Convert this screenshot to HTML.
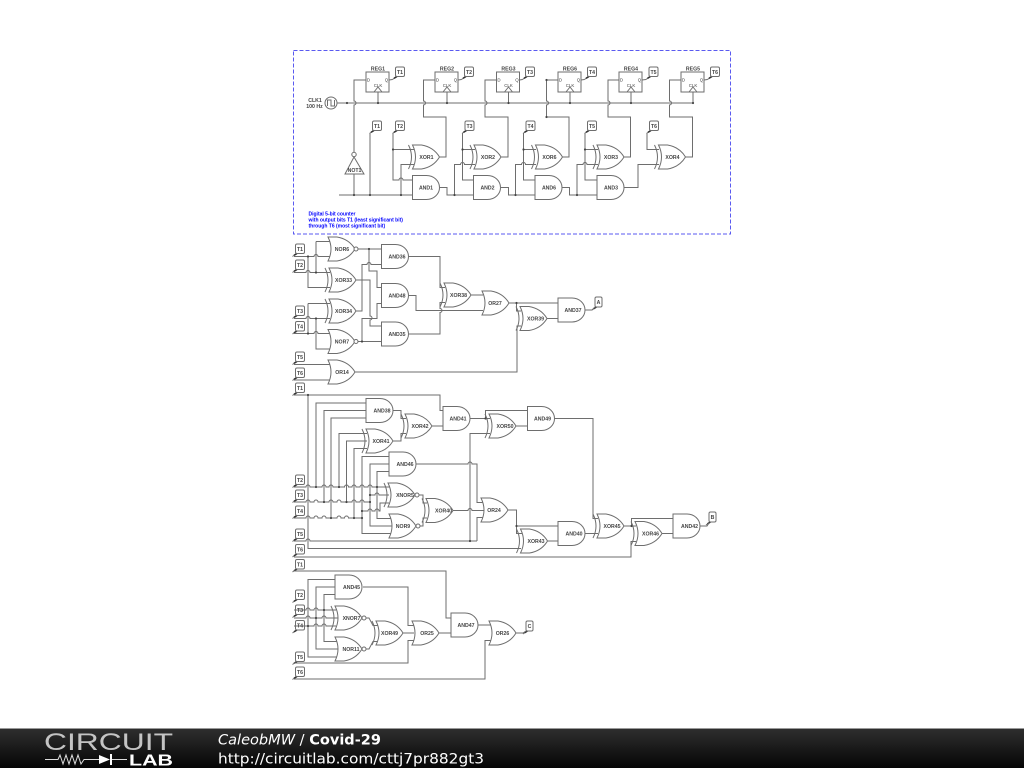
<!DOCTYPE html>
<html><head><meta charset="utf-8"><title>Covid-29</title>
<style>
html,body{margin:0;padding:0;background:#fff}
svg{display:block}
text{font-family:"Liberation Sans",sans-serif}
.dg{filter:blur(.35px)}
.w{fill:none;stroke:#6e6e6e;stroke-width:1}
.g{fill:#fff;stroke:#6e6e6e;stroke-width:1}
.l{font-size:5.2px;font-weight:bold;fill:#444;text-anchor:middle}
.s{font-size:4.4px;fill:#444;text-anchor:middle}
.t{font-size:5.2px;font-weight:bold;fill:#444;text-anchor:middle}
.b{font-size:5px;font-weight:bold;fill:#00f}
.f{font-family:"DejaVu Sans",sans-serif;font-size:14px;fill:#fff}
.d{fill:#444}
</style></head><body>
<svg xmlns="http://www.w3.org/2000/svg" width="1024" height="768" viewBox="0 0 1024 768">
<defs>
<linearGradient id="fg" x1="0" y1="0" x2="0" y2="1"><stop offset="0" stop-color="#2e2e2e"/><stop offset="1" stop-color="#050505"/></linearGradient>
<g id="and"><path class="g" d="M0,-12H14A13,12 0 0 1 14,12H0Z"/></g>
<g id="or"><path class="g" d="M0,-12H9Q21,-10 27,0Q21,10 9,12H0Q6,0 0,-12Z"/></g>
<g id="xor"><path class="g" d="M0,-12H9Q21,-10 27,0Q21,10 9,12H0Q6,0 0,-12Z"/><path class="w" d="M-4,-12Q2,0 -4,12"/></g>
<g id="tg"><path class="w" d="M1,9.5L-3,12.5"/><path d="M1.5,9.5L-1.5,11.3" stroke="#333" stroke-width="1.5" fill="none"/><rect class="g" x="0" y="0" width="9" height="9.5" rx="1.5"/></g>
<g id="ts"><path class="w" d="M1,10L-3,13"/><path d="M1.5,10L-1.5,11.8" stroke="#333" stroke-width="1.5" fill="none"/><rect class="g" x="0" y="0" width="7" height="10" rx="1.5"/></g>
<g id="reg"><rect class="g" x="0" y="0" width="23" height="20"/><path class="w" d="M8,20L12,15L16,20"/></g>
</defs>
<rect width="1024" height="768" fill="#fff"/>
<g class="dg">
<!-- dashed frame -->
<rect x="293.5" y="50.5" width="437" height="183.5" fill="none" stroke="#5a5af0" stroke-width="1" stroke-dasharray="4,2"/>

<!-- tags -->
<use href="#tg" x="395.5" y="67"/><use href="#tg" x="464.5" y="67"/><use href="#tg" x="525.5" y="67"/><use href="#tg" x="587.5" y="67"/><use href="#tg" x="649" y="67"/><use href="#tg" x="710.5" y="67"/>
<use href="#tg" x="372.5" y="121"/><use href="#tg" x="395.5" y="121"/><use href="#tg" x="465" y="121"/><use href="#tg" x="526" y="121"/><use href="#tg" x="587.5" y="121"/><use href="#tg" x="649.5" y="121"/>
<use href="#tg" x="295.5" y="244"/><use href="#tg" x="295.5" y="260"/><use href="#tg" x="295.5" y="306"/><use href="#tg" x="295.5" y="321.5"/><use href="#tg" x="295.5" y="352"/><use href="#tg" x="295.5" y="368"/><use href="#tg" x="295.5" y="383"/>
<use href="#tg" x="295.5" y="475"/><use href="#tg" x="295.5" y="490"/><use href="#tg" x="295.5" y="506"/><use href="#tg" x="295.5" y="529"/><use href="#tg" x="295.5" y="544.5"/><use href="#tg" x="295.5" y="559.5"/>
<use href="#tg" x="295.5" y="590"/><use href="#tg" x="295.5" y="605"/><use href="#tg" x="295.5" y="620.5"/><use href="#tg" x="295.5" y="652"/><use href="#tg" x="295.5" y="667"/>
<use href="#ts" x="595" y="297"/><use href="#ts" x="709" y="512"/><use href="#ts" x="526" y="621"/>

<!-- section 1 wires -->
<path class="w" d="M337,103H693"/>
<path class="w" d="M378,103V92M447,103V92M508.5,103V92M570,103V92M631,103V92M693,103V92"/>
<path class="w" d="M366,80H354V101a2,2 0 0 1 0,4V152M354,174V195"/>
<path class="w" d="M435,80H423.5V101a2,2 0 0 1 0,4V117H446V157H439"/>
<path class="w" d="M496.5,80H485V101a2,2 0 0 1 0,4V117H508V157H500"/>
<path class="w" d="M558,80H546.5V101a2,2 0 0 1 0,4V117H569V157H562"/>
<path class="w" d="M619,80H608V101a2,2 0 0 1 0,4V117H630.5V157H623"/>
<path class="w" d="M681,80H669.5V101a2,2 0 0 1 0,4V117H692.5V157H685"/>
<path class="w" d="M389,80L392.5,79.5M458,80L461.5,79.5M519.5,80L522.5,79.5M581,80L584.5,79.5M642,80L646,79.5M704,80L707.5,79.5"/>
<path class="w" d="M339,195H413M370,133V195M401,195V164.5H414"/>
<path class="w" d="M393,133V180H399a2,2 0 0 1 4,0H413M393,149.5H414"/>
<path class="w" d="M440,187.5H447V195H474M454.5,195V164.5H460.5a2,2 0 0 1 4,0H475"/>
<path class="w" d="M462.5,133V180H474M462.5,149.5H475"/>
<path class="w" d="M501,187.5H508.5V195H535M515.5,195V164.5H521.5a2,2 0 0 1 4,0H536"/>
<path class="w" d="M523.5,133V180H535M523.5,149.5H536"/>
<path class="w" d="M562,187.5H569.5V195H597M577,195V164.5H583a2,2 0 0 1 4,0H598"/>
<path class="w" d="M585,133V180H597M585,149.5H598"/>
<path class="w" d="M647,133V149.5H659M623.5,187.5H638V164.5H659"/>

<!-- section 2 wires -->
<path class="w" d="M294,256.5H314a2,2 0 0 1 4,0H330M294,272.5H306a2,2 0 0 1 4,0H330"/>
<path class="w" d="M308,256.5V287.5H330M316,241.5H330M316,241.5V272.5"/>
<path class="w" d="M294,318.5H306a2,2 0 0 1 4,0H330M294,333.5H314a2,2 0 0 1 4,0H330"/>
<path class="w" d="M308,303.5H330M308,303.5V333.5M316,318.5V349H330"/>
<path class="w" d="M294,364.5H330M294,380H330M355,372H517V326H521"/>
<path class="w" d="M358,249H382M369,249V271H377V287.5H382"/>
<path class="w" d="M355,280H370V316a2,2 0 0 1 0,4V326H382"/>
<path class="w" d="M355,311H362V264.5H367a2,2 0 0 1 4,0H382"/>
<path class="w" d="M358,341.5H382M362,341.5V318.5H377V303.5H382"/>
<path class="w" d="M409,256.5H440V287.5H445"/>
<path class="w" d="M409,295.5H416V310.5H483"/>
<path class="w" d="M409,334H440V312.5a2,2 0 0 0 0,-4V302.5H445"/>
<path class="w" d="M471,295H483M509,303H558M516.5,303V311H521M547,318.5H558M585,310H592L595,307"/>

<!-- section 3 wires -->
<path class="w" d="M294,395H440V410.5H444M308,395V548.5H521"/>
<path class="w" d="M294,487H306a2,2 0 0 1 4,0H322a2,2 0 0 1 4,0H329a2,2 0 0 1 4,0H344.5a2,2 0 0 1 4,0H352a2,2 0 0 1 4,0H360a2,2 0 0 1 4,0H368a2,2 0 0 1 4,0H390"/>
<path class="w" d="M294,502H306a2,2 0 0 1 4,0H314a2,2 0 0 1 4,0H329a2,2 0 0 1 4,0H337a2,2 0 0 1 4,0H352a2,2 0 0 1 4,0H360a2,2 0 0 1 4,0H370"/>
<path class="w" d="M294,518H306a2,2 0 0 1 4,0H314a2,2 0 0 1 4,0H322a2,2 0 0 1 4,0H337a2,2 0 0 1 4,0H344.5a2,2 0 0 1 4,0H362"/>
<path class="w" d="M294,541H306a2,2 0 0 1 4,0H477M294,557H631V541.5H636"/>
<path class="w" d="M367,403H316V487M367,410.5H324V502M367,418H331V518"/>
<path class="w" d="M367,433.5H339V487M367,441H346.5V502M367,448.5H354V518"/>
<path class="w" d="M393,410.5H401V418.5H406M393,441H401V433.5H406M432,426H444"/>
<path class="w" d="M470,418.5H490M485.5,418.5V410.5H528"/>
<path class="w" d="M470,541V433.5H490M516,426H528M554,418.5H593V518.5H598"/>
<path class="w" d="M390,456.5H362V533.5H392M390,464H370V526H392M390,471.5H377V518.5H392"/>
<path class="w" d="M370,495H375a2,2 0 0 1 4,0H389M362,511H368a2,2 0 0 1 4,0H375a2,2 0 0 1 4,0H380V503H389"/>
<path class="w" d="M419,495H423V503H427M420,526H423V518H427"/>
<path class="w" d="M453,510.5H468a2,2 0 0 1 4,0H485"/>
<path class="w" d="M415,464H468a2,2 0 0 1 4,0H477V502.5H483M483,517.5H477V541"/>
<path class="w" d="M508,510H516.5V526H559M516.5,526V533.5H522M547,541H559M585,533.5H598M624,526H636M631.5,526V518.5H674M662,533.5H674M700,526H707L709,523"/>

<!-- section 4 wires -->
<path class="w" d="M294,571H446V618H452"/>
<path class="w" d="M294,610H306a2,2 0 0 1 4,0H314a2,2 0 0 1 4,0H336"/>
<path class="w" d="M294,618H306a2,2 0 0 1 4,0H322a2,2 0 0 1 4,0H338"/>
<path class="w" d="M294,626H314a2,2 0 0 1 4,0H322a2,2 0 0 1 4,0H336"/>
<path class="w" d="M336,579.5H308V657H337M336,587H316V649H339M336,594.5H324V641.5H337"/>
<path class="w" d="M363,587H408V625.5H414M366,618H369L373,625.5H378M366,649H369L373,641.5H378M403,633H414M294,663H408V640.5H414M439,633H452M478,625H491M294,679H485V640.5H491M516,633H523L526,631"/>

<!-- junction dots -->
<g class="d">
<circle cx="347" cy="103" r="1.1"/><circle cx="378" cy="103" r="1.1"/><circle cx="447" cy="103" r="1.1"/><circle cx="508.5" cy="103" r="1.1"/><circle cx="570" cy="103" r="1.1"/><circle cx="631" cy="103" r="1.1"/><circle cx="693" cy="103" r="1.1"/>
<circle cx="354" cy="195" r="1.1"/><circle cx="370" cy="195" r="1.1"/><circle cx="401" cy="195" r="1.1"/><circle cx="393" cy="149.5" r="1.1"/><circle cx="454.5" cy="195" r="1.1"/><circle cx="462.5" cy="149.5" r="1.1"/><circle cx="515.5" cy="195" r="1.1"/><circle cx="523.5" cy="149.5" r="1.1"/><circle cx="577" cy="195" r="1.1"/><circle cx="585" cy="149.5" r="1.1"/>
<circle cx="546.5" cy="80" r="1.1"/><circle cx="546.5" cy="117" r="1.1"/>
<circle cx="308" cy="256.5" r="1.1"/><circle cx="316" cy="272.5" r="1.1"/><circle cx="316" cy="318.5" r="1.1"/><circle cx="308" cy="333.5" r="1.1"/><circle cx="369" cy="249" r="1.1"/><circle cx="362" cy="341.5" r="1.1"/><circle cx="516.5" cy="303" r="1.1"/>
<circle cx="308" cy="395" r="1.1"/><circle cx="316" cy="487" r="1.1"/><circle cx="339" cy="487" r="1.1"/><circle cx="377" cy="487" r="1.1"/><circle cx="324" cy="502" r="1.1"/><circle cx="346.5" cy="502" r="1.1"/><circle cx="370" cy="502" r="1.1"/><circle cx="331" cy="518" r="1.1"/><circle cx="354" cy="518" r="1.1"/><circle cx="362" cy="518" r="1.1"/><circle cx="370" cy="495" r="1.1"/><circle cx="362" cy="511" r="1.1"/><circle cx="470" cy="541" r="1.1"/><circle cx="485.5" cy="418.5" r="1.1"/><circle cx="516.5" cy="526" r="1.1"/><circle cx="631.5" cy="526" r="1.1"/>
<circle cx="324" cy="610" r="1.1"/><circle cx="316" cy="618" r="1.1"/><circle cx="308" cy="626" r="1.1"/>
</g>

<!-- registers -->
<use href="#reg" x="366" y="72"/><use href="#reg" x="435" y="72"/><use href="#reg" x="496.5" y="72"/><use href="#reg" x="558" y="72"/><use href="#reg" x="619" y="72"/><use href="#reg" x="681" y="72"/>
<g class="l">
<text x="378" y="70.5">REG1</text><text x="447" y="70.5">REG2</text><text x="508.5" y="70.5">REG3</text><text x="570" y="70.5">REG6</text><text x="631" y="70.5">REG4</text><text x="693" y="70.5">REG5</text>
</g>
<g class="s">
<text x="378" y="87">CLK</text><text x="447" y="87">CLK</text><text x="508.5" y="87">CLK</text><text x="570" y="87">CLK</text><text x="631" y="87">CLK</text><text x="693" y="87">CLK</text>
<text x="368.5" y="81.5">D</text><text x="437.5" y="81.5">D</text><text x="499" y="81.5">D</text><text x="560.5" y="81.5">D</text><text x="621.5" y="81.5">D</text><text x="683.5" y="81.5">D</text>
<text x="386.5" y="81.5">Q</text><text x="455.5" y="81.5">Q</text><text x="517" y="81.5">Q</text><text x="578.5" y="81.5">Q</text><text x="639.5" y="81.5">Q</text><text x="701.5" y="81.5">Q</text>
</g>

<!-- clock source and inverter -->
<circle class="g" cx="331" cy="103" r="6"/>
<path class="w" d="M327.5,106V100H331V106H334.5V100"/>
<text class="l" x="315" y="102">CLK1</text><text class="l" x="314.5" y="108">100 Hz</text>
<circle class="g" cx="354" cy="154.5" r="2.2"/>
<path class="g" d="M354,157L364,174H345Z"/>
<text class="l" x="354.5" y="172">NOT1</text>

<!-- gates section 1 -->
<use href="#xor" x="412.5" y="157"/><use href="#and" x="412.5" y="187.5"/>
<use href="#xor" x="474" y="157"/><use href="#and" x="473.5" y="187.5"/>
<use href="#xor" x="535.5" y="157"/><use href="#and" x="535" y="187.5"/>
<use href="#xor" x="597" y="157"/><use href="#and" x="597" y="187.5"/>
<use href="#xor" x="658.5" y="157"/>

<!-- gates section 2 -->
<use href="#or" x="328" y="249"/><circle class="g" cx="356" cy="249" r="2"/>
<use href="#xor" x="329" y="280"/><use href="#xor" x="329" y="311"/>
<use href="#or" x="328" y="341.5"/><circle class="g" cx="356" cy="341.5" r="2"/>
<use href="#or" x="328" y="372"/>
<use href="#and" x="381.5" y="256.5"/><use href="#and" x="381.5" y="295.5"/><use href="#and" x="381.5" y="334"/>
<use href="#xor" x="444" y="295"/><use href="#or" x="482" y="303"/><use href="#xor" x="520" y="318.5"/><use href="#and" x="558" y="310"/>

<!-- gates section 3 -->
<use href="#and" x="366" y="410.5"/><use href="#xor" x="366" y="441"/><use href="#xor" x="405" y="426"/><use href="#and" x="443" y="418.5"/><use href="#xor" x="489" y="426"/><use href="#and" x="527.5" y="418.5"/>
<use href="#and" x="389" y="464"/><use href="#xor" x="388" y="495"/><circle class="g" cx="417" cy="495" r="2"/><use href="#or" x="389" y="526"/><circle class="g" cx="418" cy="526" r="2"/>
<use href="#xor" x="426" y="510.5"/><use href="#or" x="481" y="510"/><use href="#xor" x="520.5" y="541"/><use href="#and" x="558" y="533.5"/><use href="#xor" x="597" y="526"/><use href="#xor" x="635" y="533.5"/><use href="#and" x="673" y="526"/>

<!-- gates section 4 -->
<use href="#and" x="335" y="587"/><use href="#xor" x="335" y="618"/><circle class="g" cx="364" cy="618" r="2"/><use href="#or" x="335" y="649"/><circle class="g" cx="364" cy="649" r="2"/>
<use href="#xor" x="376" y="633"/><use href="#or" x="412" y="633"/><use href="#and" x="451" y="625"/><use href="#or" x="489" y="633"/>

<!-- gate labels -->
<g class="l">
<text x="426.5" y="159">XOR1</text><text x="426" y="189.5">AND1</text>
<text x="488" y="159">XOR2</text><text x="487.5" y="189.5">AND2</text>
<text x="549.5" y="159">XOR6</text><text x="549" y="189.5">AND6</text>
<text x="611" y="159">XOR3</text><text x="611" y="189.5">AND3</text>
<text x="672.5" y="159">XOR4</text>
<text x="342" y="251">NOR6</text><text x="343.5" y="282">XOR33</text><text x="343.5" y="313">XOR34</text><text x="342" y="343.5">NOR7</text><text x="342" y="374">OR14</text>
<text x="397" y="258.5">AND36</text><text x="397" y="297.5">AND48</text><text x="397" y="336">AND35</text>
<text x="458.5" y="297">XOR38</text><text x="495" y="305">OR27</text><text x="535.5" y="320.5">XOR39</text><text x="573" y="312">AND37</text>
<text x="382" y="412.5">AND38</text><text x="381" y="443">XOR41</text><text x="420" y="428">XOR42</text><text x="458" y="420.5">AND41</text><text x="505" y="428">XOR50</text><text x="542.5" y="420.5">AND49</text>
<text x="405" y="466">AND46</text><text x="405" y="497">XNOR5</text><text x="403" y="528">NOR9</text><text x="443.5" y="512.5">XOR40</text><text x="494" y="512">OR24</text><text x="536" y="543">XOR43</text><text x="574" y="535.5">AND40</text><text x="612" y="528">XOR45</text><text x="650.5" y="535.5">XOR46</text><text x="689.5" y="528">AND42</text>
<text x="351.5" y="589">AND45</text><text x="351.5" y="620">XNOR7</text><text x="351" y="651">NOR11</text><text x="389.5" y="635">XOR49</text><text x="427" y="635">OR25</text><text x="466" y="627">AND47</text><text x="502.5" y="635">OR26</text>
</g>

<!-- tag labels -->
<g class="t">
<text x="400" y="74">T1</text><text x="469" y="74">T2</text><text x="530" y="74">T3</text><text x="592" y="74">T4</text><text x="653.5" y="74">T5</text><text x="715" y="74">T6</text>
<text x="377" y="128">T1</text><text x="400" y="128">T2</text><text x="469.5" y="128">T3</text><text x="530.5" y="128">T4</text><text x="592" y="128">T5</text><text x="654" y="128">T6</text>
<text x="300" y="251">T1</text><text x="300" y="267">T2</text><text x="300" y="313">T3</text><text x="300" y="328.5">T4</text><text x="300" y="359">T5</text><text x="300" y="375">T6</text><text x="300" y="390">T1</text>
<text x="300" y="482">T2</text><text x="300" y="497">T3</text><text x="300" y="513">T4</text><text x="300" y="536">T5</text><text x="300" y="551.5">T6</text><text x="300" y="566.5">T1</text>
<text x="300" y="597">T2</text><text x="300" y="612">T3</text><text x="300" y="627.5">T4</text><text x="300" y="659">T5</text><text x="300" y="674">T6</text>
<text x="598.5" y="304">A</text><text x="712.5" y="519">B</text><text x="529.5" y="628">C</text>
</g>

<!-- note -->
<text class="b" x="308.5" y="215.5">Digital 5-bit counter</text>
<text class="b" x="308.5" y="221.5">with output bits T1 (least significant bit)</text>
<text class="b" x="308.5" y="227.5">through T6 (most significant bit)</text>
</g>

<!-- footer -->
<rect x="0" y="728" width="1024" height="1" fill="#999"/>
<rect x="0" y="729" width="1024" height="39" fill="url(#fg)"/>
<text x="44" y="750" font-size="24" fill="#c4c4c4" textLength="129" lengthAdjust="spacingAndGlyphs" style="font-weight:normal">CIRCUIT</text>
<path d="M45,759.5H58L60,755L63,764L66,755L69,764L72,755L75,764L78,755L81,764L84,759.5H99M112,759.5H127" fill="none" stroke="#ddd" stroke-width="1"/>
<path d="M99,755V764L110,759.5Z" fill="#fff"/><path d="M111,754V765" stroke="#fff" stroke-width="2"/>
<text x="129" y="765.5" font-size="15.5" font-weight="bold" fill="#fff" textLength="44" lengthAdjust="spacingAndGlyphs">LAB</text>
<text class="f" x="218" y="744.5" textLength="163" lengthAdjust="spacingAndGlyphs"><tspan font-style="italic">CaleobMW</tspan> / <tspan font-weight="bold">Covid-29</tspan></text>
<text class="f" x="218" y="763.5" textLength="266" lengthAdjust="spacingAndGlyphs">http://circuitlab.com/cttj7pr882gt3</text>
</svg>
</body></html>
